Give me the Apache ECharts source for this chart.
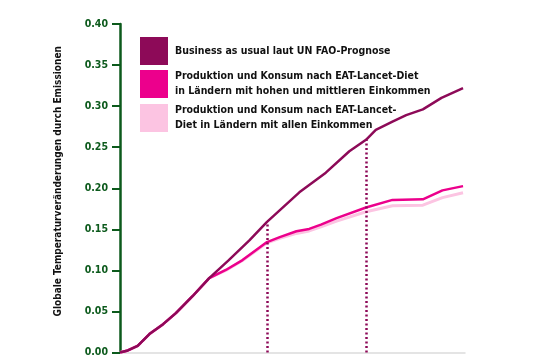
<!DOCTYPE html>
<html>
<head>
<meta charset="utf-8">
<script src="https://cdn.jsdelivr.net/npm/echarts@6/dist/echarts.min.js"></script>
<style>
  html, body { margin: 0; padding: 0; background: #fff; }
  #main { width: 537px; height: 358px; }
</style>
</head>
<body>
<div id="main"></div>
<script>
// Jahre seit Start (x) und Temperaturveränderung (y)
const seriesNames = [
  'Business as usual laut UN FAO-Prognose',
  'Produktion und Konsum nach EAT-Lancet-Diet in Ländern mit hohen und mittleren Einkommen',
  'Produktion und Konsum nach EAT-Lancet-Diet in Ländern mit allen Einkommen'
]
const legendLabels = [
  'Business as usual laut UN FAO-Prognose',
  'Produktion und Konsum nach EAT-Lancet-Diet\nin Ländern mit hohen und mittleren Einkommen',
  'Produktion und Konsum nach EAT-Lancet-\nDiet in Ländern mit allen Einkommen'
]

const bauX = [0, 0.8, 1.8, 3, 4.4, 5.7, 7.4, 9.1, 11.1, 13.2, 15, 18.3, 21, 23.4, 25.1, 26.1, 27.8, 29.2, 30.9, 32.8, 35]
const bauY = [0, 0.0025, 0.008, 0.0225, 0.0345, 0.048, 0.0685, 0.0905, 0.1125, 0.1365, 0.159, 0.195, 0.219, 0.245, 0.259, 0.271, 0.281, 0.289, 0.296, 0.31, 0.322]

const midX = [0, 0.8, 1.8, 3, 4.4, 5.7, 7.4, 9.1, 10.8, 12.5, 15, 16.3, 18, 19.3, 20.5, 22.1, 25.1, 27.8, 30.9, 32.9, 35]
const midY = [0, 0.0025, 0.008, 0.0225, 0.0345, 0.048, 0.0685, 0.0905, 0.1005, 0.1125, 0.1345, 0.1405, 0.1477, 0.1505, 0.1558, 0.1637, 0.1766, 0.1858, 0.1865, 0.1974, 0.2026]

const allX = [0, 0.8, 1.8, 3, 4.4, 5.7, 7.4, 9.1, 10.8, 12.5, 15, 16.3, 18, 19.3, 20.5, 22.1, 25.1, 27.8, 30.9, 32.9, 35]
const allY = [0, 0.0025, 0.008, 0.0225, 0.0345, 0.048, 0.0685, 0.0905, 0.1, 0.112, 0.1335, 0.139, 0.145, 0.148, 0.153, 0.16, 0.1714, 0.1786, 0.1794, 0.1886, 0.1946]

// gepunktete Markierungen (x, Höhe)
const markX = [15, 25.1]
const markTop = [0.159, 0.259]

const colors = ['#8d0a58', '#ec008c', '#fcc4e2']
const green = '#0c5a1c'
const font = '"Liberation Sans Narrow", "DejaVu Sans Condensed", sans-serif'

function pairs(xs, ys) {
  return xs.map((x, i) => [x, ys[i]])
}

const chart = echarts.init(document.getElementById('main'))

const option = {
  animation: false,
  textStyle: { fontFamily: font },
  grid: {
    left: 120,
    right: 72,
    top: 24,
    bottom: 1,
    containLabel: false
  },
  legend: {
    orient: 'vertical',
    left: 140,
    top: 37,
    padding: 0,
    itemWidth: 28,
    itemHeight: 28,
    itemGap: 4,
    icon: 'rect',
    data: seriesNames,
    formatter: name => legendLabels[seriesNames.indexOf(name)],
    textStyle: {
      fontFamily: font,
      fontWeight: 'bold',
      fontSize: 10.5,
      lineHeight: 15,
      color: '#111',
      padding: [0, 0, 0, 2]
    }
  },
  xAxis: {
    type: 'value',
    min: 0,
    max: 35.2,
    axisLine: { show: true, lineStyle: { color: '#dcdcdc', width: 1.5 } },
    axisTick: { show: false },
    axisLabel: { show: false },
    splitLine: { show: false }
  },
  yAxis: {
    type: 'value',
    min: 0,
    max: 0.4,
    interval: 0.05,
    name: 'Globale Temperaturveränderungen durch Emissionen',
    nameLocation: 'middle',
    nameRotate: 90,
    nameGap: 57,
    nameTextStyle: {
      fontFamily: font,
      fontWeight: 'bold',
      fontSize: 10,
      color: '#111',
      padding: [0, 0, 0, 14]
    },
    axisLine: { show: true, lineStyle: { color: green, width: 2.5 } },
    axisTick: { show: true, length: 8, lineStyle: { color: green, width: 2 } },
    axisLabel: {
      margin: 12,
      fontFamily: font,
      fontWeight: 'bold',
      fontSize: 10.5,
      color: green,
      formatter: v => v.toFixed(2)
    },
    splitLine: { show: false }
  },
  series: [
    {
      name: seriesNames[2],
      type: 'line',
      data: pairs(allX, allY),
      showSymbol: false,
      color: colors[2],
      lineStyle: { width: 3, color: colors[2] },
      z: 2
    },
    {
      name: seriesNames[1],
      type: 'line',
      data: pairs(midX, midY),
      showSymbol: false,
      color: colors[1],
      lineStyle: { width: 2.5, color: colors[1] },
      z: 3
    },
    {
      name: seriesNames[0],
      type: 'line',
      data: pairs(bauX, bauY),
      showSymbol: false,
      color: colors[0],
      lineStyle: { width: 2.5, color: colors[0] },
      z: 4,
      markLine: {
        silent: true,
        symbol: 'none',
        label: { show: false },
        lineStyle: { type: [2, 2.5], width: 2.5, color: colors[0] },
        data: markX.map((x, i) => [{ coord: [x, 0] }, { coord: [x, markTop[i]] }])
      }
    }
  ]
}

chart.setOption(option)
</script>
</body>
</html>
